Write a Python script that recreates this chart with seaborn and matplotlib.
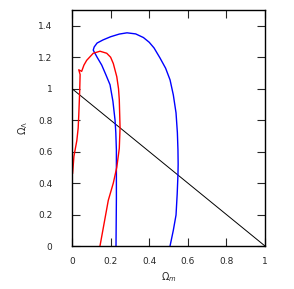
import matplotlib
matplotlib.use("Agg")
import matplotlib.pyplot as plt
import seaborn as sns
import pandas as pd

red_om = [0.003, 0.01, 0.025, 0.032, 0.035, 0.04, 0.042, 0.035, 0.05, 0.062, 0.076, 0.11, 0.145, 0.18, 0.2, 0.214, 0.232, 0.241, 0.245, 0.249, 0.245, 0.232, 0.214, 0.188, 0.145]
red_ol = [0.46, 0.57, 0.67, 0.75, 0.83, 0.99, 1.09, 1.12, 1.11, 1.15, 1.18, 1.225, 1.238, 1.225, 1.2, 1.16, 1.076, 1.0, 0.93, 0.75, 0.62, 0.50, 0.40, 0.29, 0.0]

blue_om = [0.228, 0.23, 0.23, 0.227, 0.223, 0.212, 0.197, 0.175, 0.154, 0.13, 0.11, 0.115, 0.13, 0.161, 0.2, 0.245, 0.285, 0.33, 0.37, 0.40, 0.425, 0.456, 0.485, 0.508, 0.525, 0.539, 0.546, 0.549, 0.55, 0.549, 0.545, 0.539, 0.525, 0.508]
blue_ol = [0.0, 0.3, 0.61, 0.72, 0.80, 0.92, 1.025, 1.09, 1.15, 1.2, 1.245, 1.265, 1.29, 1.31, 1.33, 1.347, 1.355, 1.348, 1.325, 1.295, 1.259, 1.195, 1.13, 1.056, 0.96, 0.846, 0.72, 0.611, 0.52, 0.452, 0.33, 0.197, 0.1, 0.0]

flat_om = [0.0, 1.0]
flat_ol = [1.0, 0.0]

xticks = [0, 0.2, 0.4, 0.6, 0.8, 1]
xticklabels = ["0", "0.2", "0.4", "0.6", "0.8", "1"]
yticks = [0, 0.2, 0.4, 0.6, 0.8, 1, 1.2, 1.4]
yticklabels = ["0", "0.2", "0.4", "0.6", "0.8", "1", "1.2", "1.4"]

sns.set_style("ticks")
plt.rcParams['font.family'] = ['DejaVu Sans']

fig = plt.figure(figsize=(2.94, 2.89), dpi=100)
ax = fig.add_axes([72/294, 43/289, 193/294, 236/289])

df_red = pd.DataFrame({"om": red_om, "ol": red_ol})
df_blue = pd.DataFrame({"om": blue_om, "ol": blue_ol})
df_flat = pd.DataFrame({"om": flat_om, "ol": flat_ol})

sns.lineplot(data=df_flat, x="om", y="ol", sort=False, color="black", linewidth=0.7, ax=ax, estimator=None)
sns.lineplot(data=df_blue, x="om", y="ol", sort=False, color="#0000ff", linewidth=1.0, ax=ax, estimator=None)
sns.lineplot(data=df_red, x="om", y="ol", sort=False, color="#ff0000", linewidth=1.0, ax=ax, estimator=None)

ax.set_xlim(0, 1)
ax.set_ylim(0, 1.5)
ax.set_xticks(xticks)
ax.set_xticklabels(xticklabels)
ax.set_yticks(yticks)
ax.set_yticklabels(yticklabels)
ax.tick_params(direction="in", length=6, width=0.8, labelsize=6.5, top=True, right=True)
ax.tick_params(axis="x", pad=8)
ax.tick_params(axis="y", pad=14)
for s in ax.spines.values():
    s.set_linewidth(1.0)
    s.set_color("black")
ax.set_xlabel(r"$\Omega_m$", fontsize=7, labelpad=3)
ax.set_ylabel(r"$\Omega_\Lambda$", fontsize=7, labelpad=6)

fig.savefig("out.png", dpi=100)
